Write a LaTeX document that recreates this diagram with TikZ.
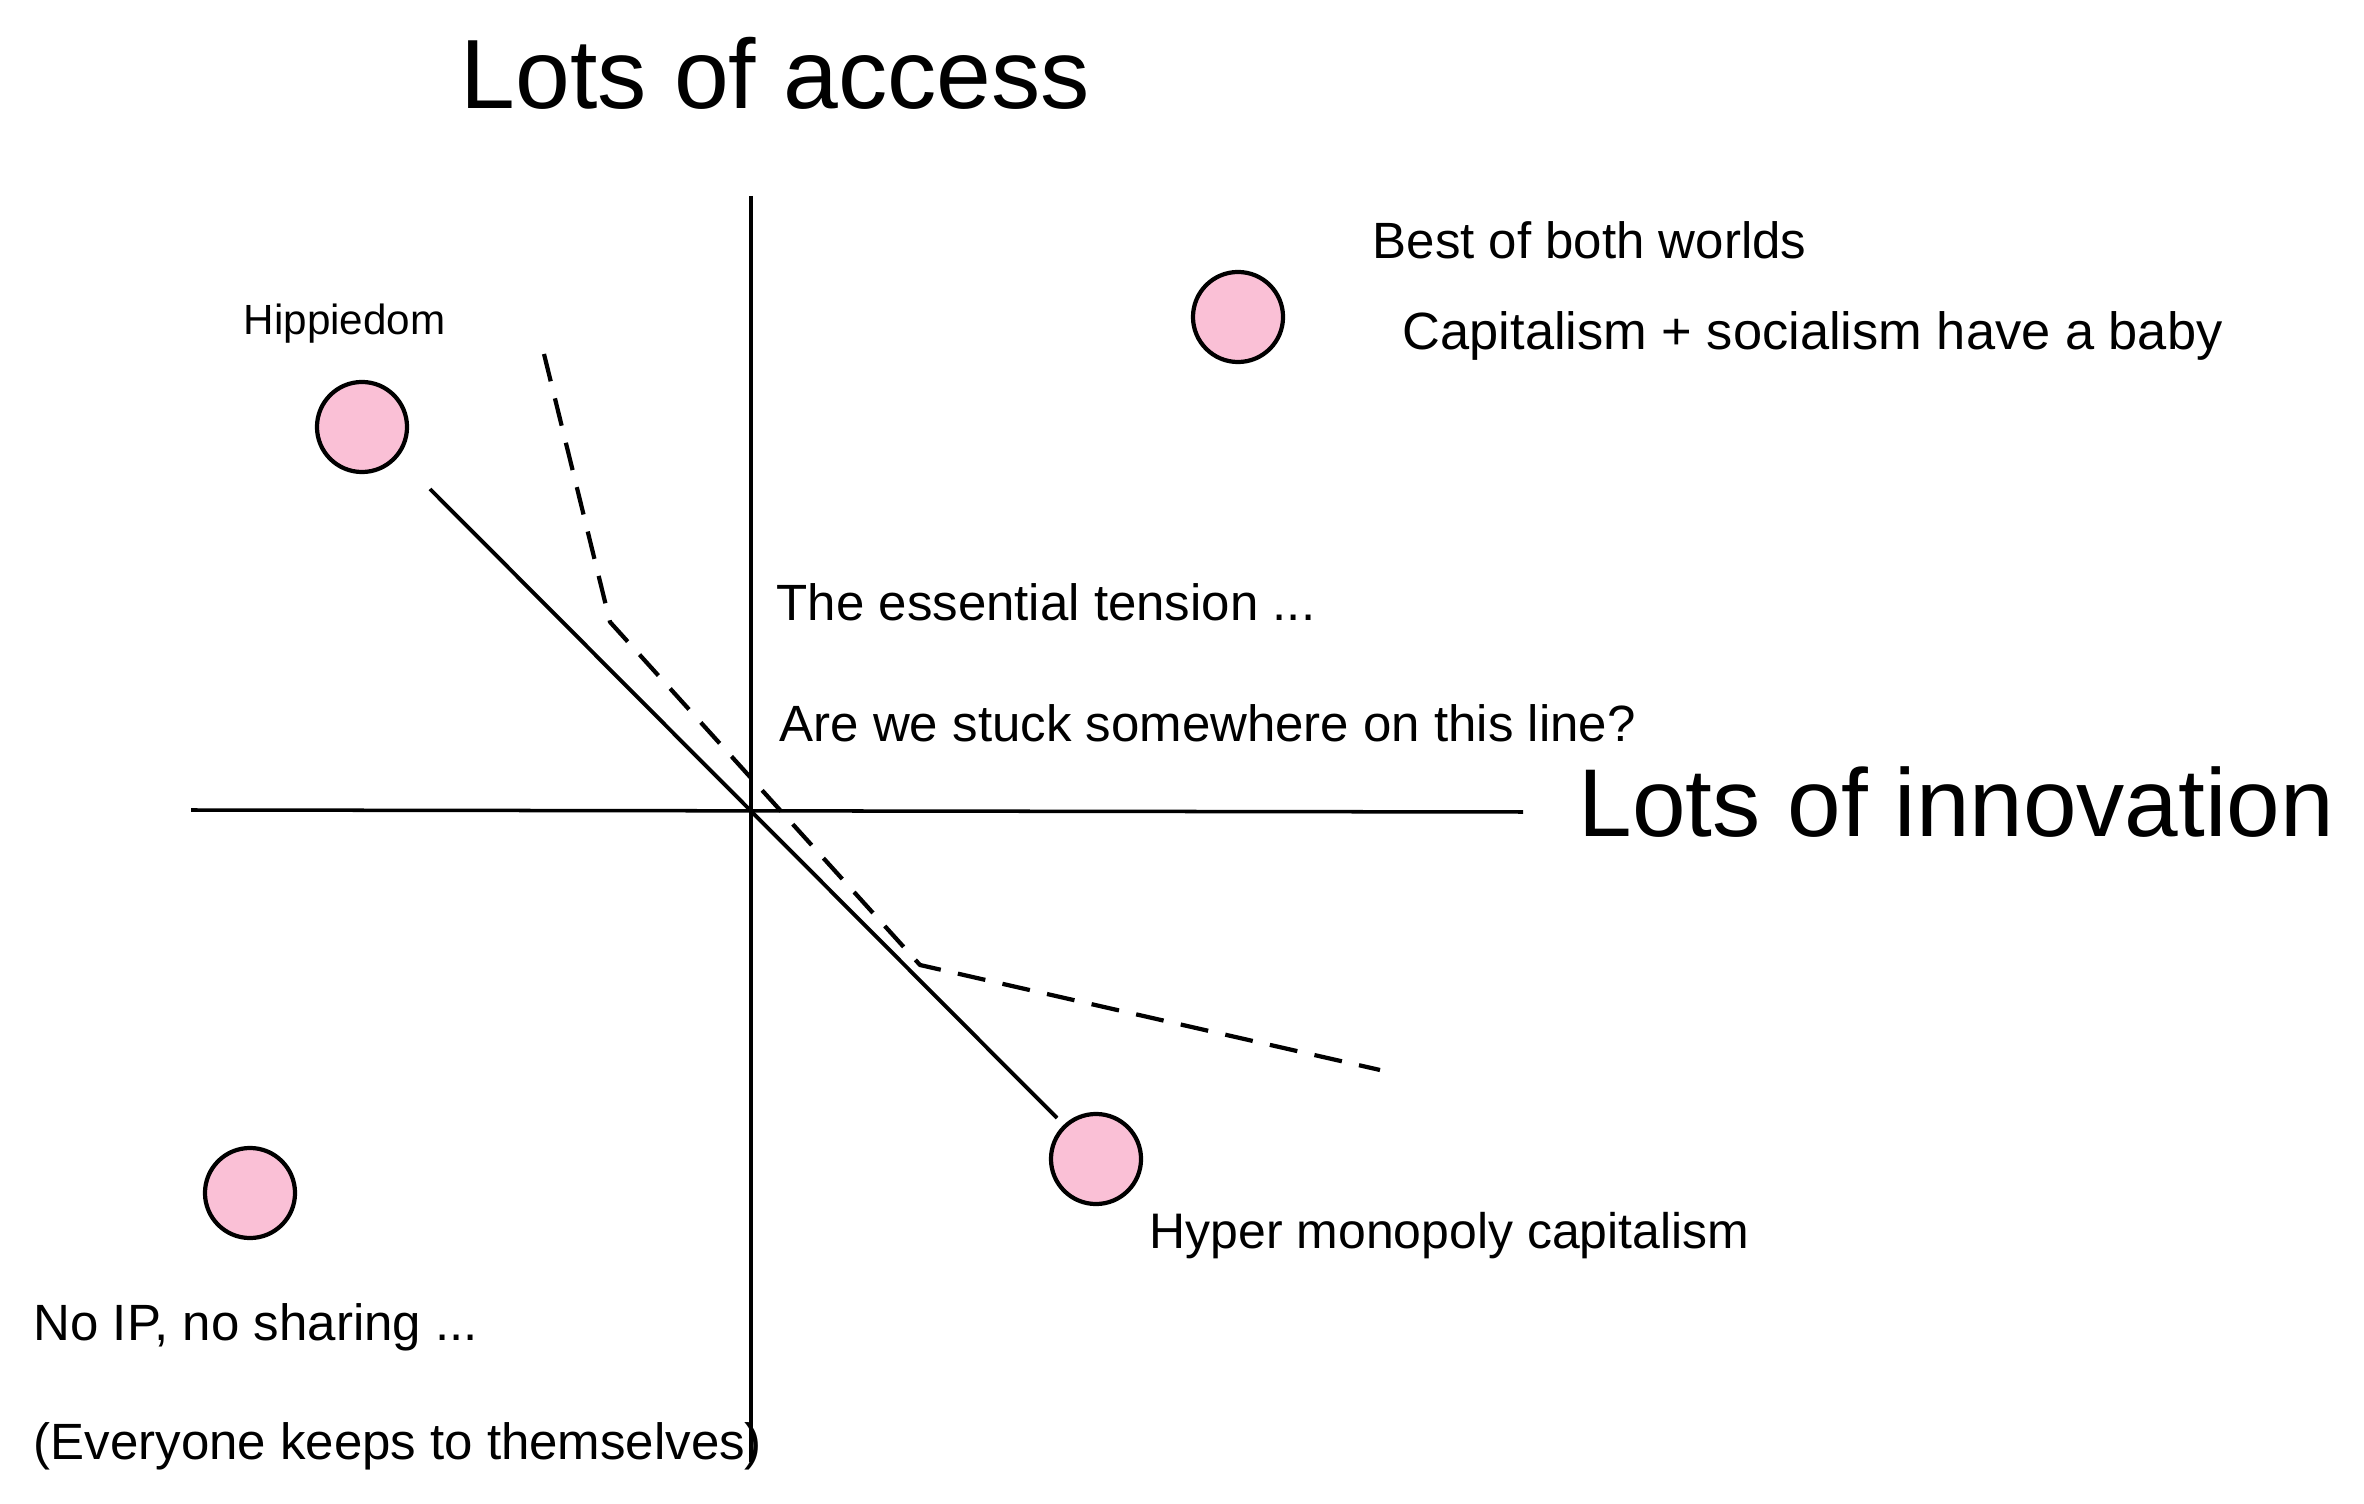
\documentclass[tikz,border=0pt]{standalone}
\usepackage{fontspec}
\setmainfont{Liberation Sans}
\definecolor{dotpink}{RGB}{250,192,214}

\begin{document}
\begin{tikzpicture}[x=0.01cm,y=-0.01cm,
  axisline/.style={line width=1pt},
  pinkdot/.style={circle,draw,line width=1.2pt,fill=dotpink,minimum size=0.9cm,inner sep=0pt},
  note/.style={anchor=base west,inner sep=0pt,font=\fontsize{14.5}{17}\selectfont},
  bignote/.style={anchor=base west,inner sep=0pt,font=\fontsize{28}{34}\selectfont}]
\useasboundingbox[fill=white] (0,0) rectangle (2364,1504);
% axes
\coordinate (ytop) at (751,196);
\coordinate (ybot) at (751,1462);
\coordinate (xleft) at (191,810);
\coordinate (xright) at (1523,812);
\draw[axisline] (ytop) -- (ybot);
\draw[axisline] (xleft) -- (xright);
\node[bignote] (accesslbl) at (460,109) {Lots of access};
\node[bignote,font=\fontsize{27.4}{33}\selectfont] (innovlbl) at (1578,837) {Lots of innovation};
% the four corners
\node[pinkdot] (hippie) at (362,427) {};
\node[pinkdot] (best) at (1238,317) {};
\node[pinkdot] (noip) at (250,1193) {};
\node[pinkdot] (hyper) at (1096,1159) {};
\node[note,font=\fontsize{12}{14}\selectfont] (hippielbl) at (243,335) {Hippiedom};
\node[note] (bestlbl) at (1372,259) {Best of both worlds};
\node[note,font=\fontsize{14.9}{17}\selectfont] (babylbl) at (1402,350) {Capitalism + socialism have a baby};
\node[note,font=\fontsize{14.2}{17}\selectfont] (hyperlbl) at (1149,1248) {Hyper monopoly capitalism};
\node[note] (noiplbl) at (33,1340) {No IP, no sharing ...};
\node[note] (selflbl) at (33,1459) {(Everyone keeps to themselves)};
% the tension
\node[note] (tensionlbl) at (776,621) {The essential tension ...};
\node[note] (stucklbl) at (779,742) {Are we stuck somewhere on this line?};
\coordinate (s1) at (430,489);
\coordinate (s2) at (1057,1118);
\draw[line width=1.1pt] (s1) -- (s2);
\coordinate (d1) at (544,354);
\coordinate (d2) at (610,622);
\coordinate (d3) at (920,965);
\coordinate (d4) at (1380,1070);
\draw[line width=1.2pt,dash pattern=on 8pt off 5pt] (d1) -- (d2) -- (d3) -- (d4);
\end{tikzpicture}
\end{document}
